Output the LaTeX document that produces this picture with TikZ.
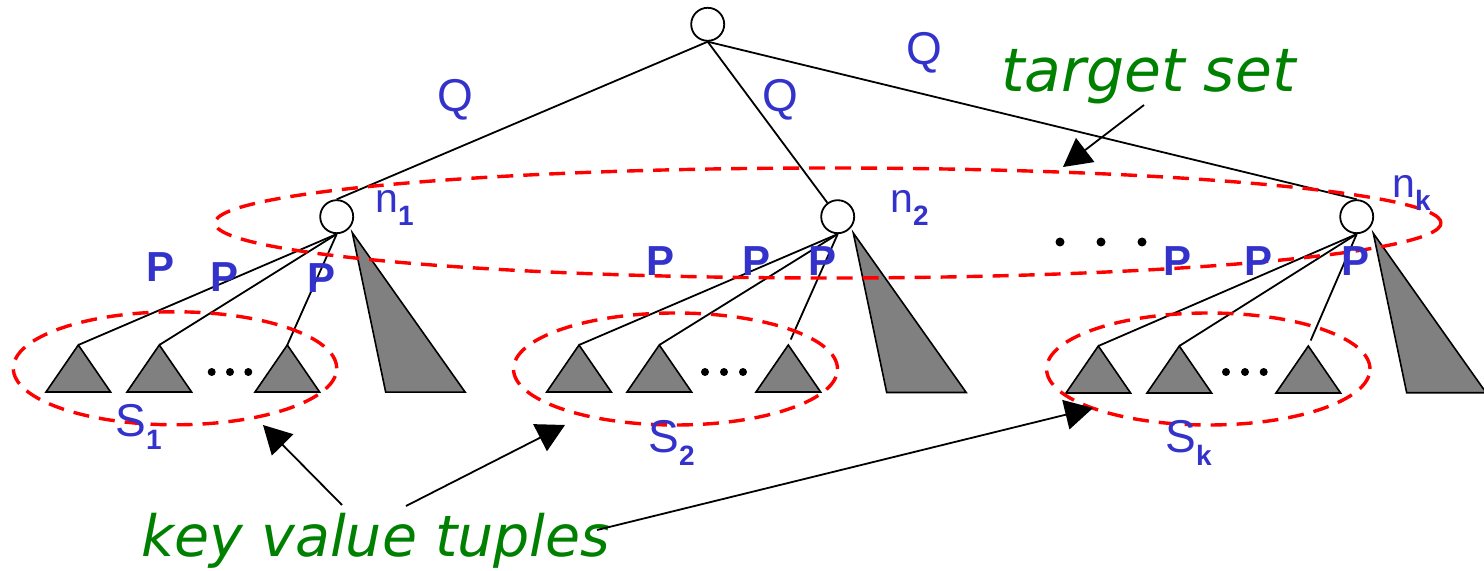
\documentclass[tikz,border=0pt]{standalone}
\usepackage{fontspec}
\setmainfont{Liberation Sans}
\newfontfamily\handfont{DejaVu Sans}
\usetikzlibrary{arrows.meta,shapes.geometric}
\definecolor{lblue}{RGB}{51,51,204}
\definecolor{lgreen}{RGB}{0,128,0}
\definecolor{tgray}{RGB}{128,128,128}
\newcommand\subl[1]{\raisebox{-6.5pt}{\fontsize{14}{14}\selectfont\bfseries #1}}
\begin{document}
\begin{tikzpicture}[x=0.5pt,y=-0.5pt,
  treenode/.style={circle,draw,line width=0.9pt,minimum size=16.5pt,inner sep=0pt,fill=white},
  edge/.style={line width=0.9pt},
  subtree/.style={fill=tgray,draw=black,line width=0.8pt,line join=miter},
  dotmark/.style={circle,fill=black,inner sep=0pt,minimum size=4pt},
  setring/.style={ellipse,draw=red,line width=1.7pt,dash pattern=on 8pt off 5pt,inner sep=0pt},
  qlab/.style={text=lblue,font=\fontsize{23}{23}\selectfont,inner sep=0pt},
  plab/.style={text=lblue,font=\fontsize{21}{21}\selectfont\bfseries,inner sep=0pt},
  nlab/.style={text=lblue,font=\fontsize{20.5}{20.5}\selectfont,inner sep=0pt,anchor=base west},
  slab/.style={text=lblue,font=\fontsize{23}{23}\selectfont,inner sep=0pt,anchor=base west},
  hand/.style={text=lgreen,inner sep=0pt,anchor=base},
  pointer/.style={line width=0.9pt,-{Triangle[length=14pt,width=15pt]}}]
\useasboundingbox (0,0) rectangle (1484,571);

% tree nodes
\node[treenode] (root) at (707.7,24.3) {};
\node[treenode] (n1) at (336.7,216.7) {};
\node[treenode] (n2) at (837.7,216.7) {};
\node[treenode] (nk) at (1356.7,216.7) {};

% apex coordinates of subtrees
\coordinate (a11) at (78.3,345);  \coordinate (a12) at (159.3,345);  \coordinate (a13) at (287.3,345);
\coordinate (a21) at (579,345);   \coordinate (a22) at (659.3,345);  \coordinate (a23) at (788.3,345);
\coordinate (ak1) at (1098.3,346);\coordinate (ak2) at (1179.3,346); \coordinate (ak3) at (1308.3,346);
\coordinate (b1) at (352.3,232.7); \coordinate (b2) at (853.3,233); \coordinate (bk) at (1373.3,233.3);

% edges
\draw[edge] (root.south) -- (n1.north);
\draw[edge] (root.south) -- (n2);
\draw[edge] (root.south) -- (nk.north);
\draw[edge] (n1.south) -- (a11);
\draw[edge] (n1.south) -- (a12);
\draw[edge] (n1.south) -- (a13);
\draw[edge] (n2.south) -- (a21);
\draw[edge] (n2.south) -- (a22);
\draw[edge,shorten >=3pt] (n2.south) -- (a23);
\draw[edge] (nk.south) -- (ak1);
\draw[edge] (nk.south) -- (ak2);
\draw[edge,shorten >=3pt] (nk.south) -- (ak3);

% subtrees
\foreach \c in {a11,a12,a13,a21,a22,a23,ak1,ak2,ak3}
  \path[subtree] (\c) -- ++(-32.3,47) -- ++(64.6,0) -- cycle;
\foreach \c in {b1,b2,bk}
  \path[subtree] (\c) -- ++(33.4,159.5) -- ++(79.5,0) -- cycle;

% dots
\foreach \x/\n in {211.7/d11,230/d12,248.3/d13,705/d21,724/d22,743/d23,1226/dk1,1245/dk2,1263.7/dk3}
  \node[dotmark] (\n) at (\x,372) {};
\foreach \x/\n in {1060/m1,1101/m2,1142/m3}
  \node[dotmark,minimum size=4.5pt] (\n) at (\x,242) {};

% dashed sets
\node[setring,minimum width=161.7pt,minimum height=56.5pt] (S1ring) at (175,368.3) {};
\node[setring,minimum width=162pt,minimum height=56pt] (S2ring) at (675.5,369) {};
\node[setring,minimum width=161.7pt,minimum height=56pt] (Skring) at (1208.3,369) {};
\node[setring,minimum width=613pt,minimum height=55pt] (target) at (828,223) {};

% labels
\node[qlab] (q1) at (455,100) {Q};
\node[qlab] (q2) at (780,100) {Q};
\node[qlab] (q3) at (924,53) {Q};
\node[nlab] (ln1) at (375,213) {n\subl{1}};
\node[nlab] (ln2) at (890,213) {n\subl{2}};
\node[nlab] (lnk) at (1392,198) {n\subl{k}};
\node[plab] (p11) at (160.8,267) {P};
\node[plab] (p12) at (225,277) {P};
\node[plab] (p13) at (321.5,278) {P};
\node[plab] (p21) at (660.5,261.5) {P};
\node[plab] (p22) at (757,261.5) {P};
\node[plab] (p23) at (822,261.5) {P};
\node[plab] (pk1) at (1177.5,261.5) {P};
\node[plab] (pk2) at (1258,261.5) {P};
\node[plab] (pk3) at (1355.5,261.5) {P};
\node[slab] (ls1) at (115,437) {S\subl{1}};
\node[slab] (ls2) at (648,453) {S\subl{2}};
\node[slab] (lsk) at (1165,453) {S\subl{k}};

\node[hand,font=\handfont\itshape\fontsize{30}{30}\selectfont] (ts) at (1148.5,92) {target set};
\node[hand,font=\handfont\itshape\fontsize{28.5}{28.5}\selectfont] (kv) at (376,557) {key value tuples};

% pointers
\coordinate (tstail) at (1144,105); \coordinate (tstip) at (1063,167);
\coordinate (kv1) at (342,505); \coordinate (s1tip) at (263,425);
\coordinate (kv2) at (406,506); \coordinate (s2tip) at (565,425);
\coordinate (kv3) at (597,530); \coordinate (sktip) at (1093,408);
\draw[pointer] (tstail) -- (tstip);
\draw[pointer] (kv1) -- (s1tip);
\draw[pointer] (kv2) -- (s2tip);
\draw[pointer] (kv3) -- (sktip);
\end{tikzpicture}
\end{document}
